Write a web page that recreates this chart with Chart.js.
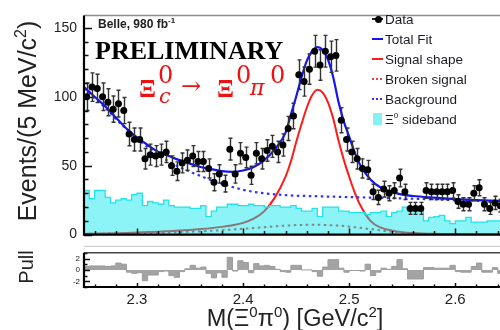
<!DOCTYPE html>
<html>
<head>
<meta charset="utf-8">
<script src="https://cdn.jsdelivr.net/npm/chart.js@4/dist/chart.umd.min.js"></script>
<style>
  body { margin: 0; width: 500px; height: 330px; overflow: hidden; position: relative; background: #fff;
         font-family: 'Liberation Sans', Arial, sans-serif; color: #222; }
  canvas { position: absolute; left: 0; }
  .t { position: absolute; white-space: nowrap; line-height: 1; }
  .serif { font-family: 'Liberation Serif', 'Times New Roman', serif; }
  .math { position: absolute; white-space: nowrap; line-height: 1; font-family: 'DejaVu Serif', serif; color: #ee1111; }
  .xi { position: absolute; white-space: nowrap; line-height: 1; font-family: 'Liberation Serif', serif; color: #ee1111; font-size: 25px; font-weight: bold; }
  .rot { position: absolute; width: 0; height: 0; }
  .rot span { position: absolute; white-space: nowrap; line-height: 1; transform: translate(-50%, -50%) rotate(-90deg); }
  .leg { position: absolute; left: 385px; font-size: 13.5px; line-height: 1; white-space: nowrap; color: #1c1c24; }
  .smp { position: absolute; left: 372px; width: 11px; }
</style>
</head>
<body>
<canvas id="main" width="510" height="250" style="top:0"></canvas>
<canvas id="pull" width="510" height="86" style="top:244px"></canvas>

<div class="t" style="left:98px; top:18px; font-size:12px; font-weight:bold;">Belle, 980 fb<span style="font-size:8px; position:relative; top:-5px;">-1</span></div>
<div class="t serif" style="left:95px; top:38px; font-size:26px; font-weight:bold; color:#000;">PRELIMINARY</div>

<div class="xi" style="left:139px; top:76px;">Ξ</div>
<div class="math" style="left:158px; top:63px; font-size:24px;">0</div>
<div class="math" style="left:159px; top:86px; font-size:21px; font-style:italic;">c</div>
<div class="math" style="left:181px; top:74px; font-size:24px;">→</div>
<div class="xi" style="left:217px; top:76px;">Ξ</div>
<div class="math" style="left:236px; top:63px; font-size:24px;">0</div>
<div class="math" style="left:250px; top:77px; font-size:22px; font-style:italic;">π</div>
<div class="math" style="left:270px; top:63px; font-size:24px;">0</div>

<div class="smp" style="top:18px; height:1.5px; background:#222;"></div>
<div class="smp" style="top:16px; left:374.5px; width:7px; height:7px; border-radius:50%; background:#000;"></div>
<div class="leg" style="top:12.5px;">Data</div>
<div class="smp" style="top:38px; height:2px; background:#1515f0;"></div>
<div class="leg" style="top:32.5px;">Total Fit</div>
<div class="smp" style="top:58px; height:2px; background:#ff1a1a;"></div>
<div class="leg" style="top:52.5px;">Signal shape</div>
<div class="smp" style="top:78px; height:2px; background:repeating-linear-gradient(90deg,#e04040 0 2px,transparent 2px 4px);"></div>
<div class="leg" style="top:72.5px;">Broken signal</div>
<div class="smp" style="top:98px; height:2px; background:repeating-linear-gradient(90deg,#3333ee 0 2px,transparent 2px 4px);"></div>
<div class="leg" style="top:92.5px;">Background</div>
<div class="smp" style="top:113px; left:373px; width:9px; height:12px; background:#86f0f4;"></div>
<div class="leg" style="top:112.5px;">Ξ<span style="font-size:8px; position:relative; top:-6px;">0</span> sideband</div>

<div class="rot" style="left:27px; top:121px;"><span style="font-size:25px;">Events/(5 MeV/c<span style="font-size:16px; position:relative; top:-10px;">2</span>)</span></div>
<div class="rot" style="left:26px; top:267px;"><span style="font-size:20px;">Pull</span></div>
<div class="t" style="left:295px; top:307px; font-size:23.5px; transform:translateX(-50%);">M(Ξ<span style="font-size:15px; position:relative; top:-9px;">0</span>π<span style="font-size:15px; position:relative; top:-9px;">0</span>) [GeV/c<span style="font-size:15px; position:relative; top:-9px;">2</span>]</div>

<script>
// binning of the M(Xi0 pi0) histogram, 5 MeV bins
const binLow = 2.25;
const binWidth = 0.005;

const massTicks = [2.3, 2.4, 2.5, 2.6];
const eventTicks = [0, 50, 100, 150];
const pullTicks = [-2, 0, 2];

// data, events per bin
const counts = [
  100, 107, 106, 100, 96, 91, 95, 90, 73, 69,
  69, 55, 58, 57, 58, 60, 50, 46, 52, 54,
  57, 53, 53, 48, 38, 44, 37, 62, 44, 59,
  56, 43, 59, 55, 61, 64, 60, 65, 77, 86,
  116, 111, 120, 133, 123, 133, 129, 130, 83, 69,
  60, 55, 48, 47, 31, 27, 33, 30, 32, 41,
  31, 19, 19, 19, 32, 31, 31, 31, 31, 32,
  24, 22, 22, 30, 34, 22, 19, 23, 21
];

// Xi0 sideband histogram
const sideband = [
  32, 26, 32, 32, 27, 23, 25, 26, 25, 29,
  30, 21, 24, 23, 22, 25, 21, 20, 20, 20,
  19, 19, 21, 13, 17, 20, 20, 22, 22, 21,
  21, 22, 21, 21, 20, 21, 21, 20, 20, 21,
  19, 17, 17, 19, 13, 20, 20, 20, 17, 17,
  16, 16, 16, 14.5, 16, 16, 17, 13, 16, 17,
  20, 20, 19, 17, 10, 12.5, 13, 14, 10, 8,
  10, 10, 12.5, 9, 9, 9, 10, 10, 10
];

// pull per bin
const pulls = [
  0.6, 0.7, 0.7, 0.7, 0.6, 0.7, 1.2, 1.0, -0.4, -0.6,
  -0.5, -1.9, -0.9, -0.9, -0.3, -0.2, -1.0, -1.3, -0.3, 0.2,
  0.8, 0.3, 0.5, -0.6, -1.4, -0.5, -1.3, 2.2, -0.2, 1.6,
  1.3, -0.5, 1.1, 0.7, 0.8, 0.6, 0.1, -0.3, -0.4, 0.8,
  0.8, 0.0, 0.0, -0.3, -1.1, 0.5, 1.8, 1.8, 0.3, -0.4,
  -0.1, -0.1, -0.2, 1.0, -1.0, -0.4, 0.3, 0.1, 0.6, 1.8,
  0.2, -1.6, -1.6, -1.6, 0.4, 0.4, 0.3, 0.3, 0.3, 0.8,
  -0.3, -0.4, -0.4, 0.6, 1.2, -0.4, -0.4, 0.4, -0.6
];

// fit curves
const fitMass = [2.25, 2.26, 2.27, 2.28, 2.29, 2.30, 2.31, 2.32, 2.33, 2.34,
  2.35, 2.36, 2.37, 2.38, 2.39, 2.40, 2.41, 2.42, 2.43, 2.44,
  2.445, 2.45, 2.455, 2.46, 2.465, 2.47, 2.475, 2.48, 2.485, 2.49,
  2.495, 2.50, 2.505, 2.51, 2.52, 2.53, 2.54, 2.55, 2.56, 2.58,
  2.60, 2.62, 2.64, 2.65];
const totalFit = [107, 100, 93, 85, 77, 70.5, 65, 60, 57, 54,
  51.5, 49, 47.5, 46, 45.5, 46.5, 49, 54, 62, 74,
  87, 100, 114, 126, 133, 136, 134, 127, 114, 96,
  82, 71, 60, 51, 40, 34, 31, 29, 28, 26.8,
  25.8, 25, 24.4, 24.2];
const background = [106, 99, 92, 84, 76.5, 69.5, 63.5, 58, 53, 49,
  45.5, 42.5, 39.5, 37, 34.5, 32.5, 31, 30, 29.2, 28.6,
  28.4, 28.2, 28.1, 28, 27.9, 27.8, 27.7, 27.6, 27.5, 27.4,
  27.3, 27.2, 27.1, 27, 26.8, 26.6, 26.4, 26.2, 26, 25.6,
  25, 24.5, 24, 23.8];
const signalShape = [0.5, 0.6, 0.8, 1.0, 1.2, 1.5, 1.8, 2.1, 2.5, 2.9,
  3.4, 4, 4.7, 5.6, 6.8, 8.5, 11.5, 17, 27, 42,
  53, 67, 80, 92, 101, 105, 103, 96, 84, 68,
  54, 42, 31, 22, 10, 5, 3, 1.8, 1.2, 0.6,
  0.4, 0.3, 0.2, 0.2];
const brokenSignal = [0.5, 0.6, 0.7, 0.8, 0.9, 1.0, 1.2, 1.4, 1.6, 1.8,
  2.1, 2.4, 2.8, 3.2, 3.7, 4.2, 4.8, 5.4, 6, 6.5,
  6.7, 6.9, 7, 7.1, 7.1, 7.1, 7, 6.9, 6.7, 6.5,
  6.2, 5.8, 5.4, 5, 4, 3, 2, 1.2, 0.7, 0.3,
  0.2, 0.1, 0.1, 0.1];

const xMin = binLow;
const xMax = binLow + counts.length * binWidth;

const binCenter = i => binLow + (i + 0.5) * binWidth;
// histogram outline: one point per left bin edge plus the last right edge
const histPoints = vals => vals.map((v, i) => ({ x: binLow + i * binWidth, y: v }))
  .concat([{ x: xMax, y: vals[vals.length - 1] }]);
const curve = vals => fitMass.map((m, i) => ({ x: m, y: vals[i] }));

function framePlugin(o) {
  return {
    id: 'frame',
    afterDatasetsDraw(chart) {
      const { ctx, chartArea: a, scales: { x, y } } = chart;
      ctx.save();
      if (o.sep) {
        ctx.strokeStyle = '#c4c4c4';
        ctx.lineWidth = 1;
        ctx.beginPath();
        ctx.moveTo(a.left, a.top - 6.5);
        ctx.lineTo(chart.width, a.top - 6.5);
        ctx.stroke();
      }
      ctx.strokeStyle = '#111';
      ctx.lineWidth = 1.5;
      ctx.beginPath();
      for (let k = Math.ceil(y.min / o.yStep - 1e-9); k * o.yStep <= y.max + 1e-9; k++) {
        const py = Math.round(y.getPixelForValue(k * o.yStep)) + 0.5;
        const len = (k % o.yEvery === 0) ? o.yLong : o.yShort;
        ctx.moveTo(a.left, py);
        ctx.lineTo(a.left + len, py);
      }
      for (let k = Math.ceil(x.min / 0.02 - 1e-9); k * 0.02 <= x.max + 1e-9; k++) {
        const px = Math.round(x.getPixelForValue(k * 0.02)) + 0.5;
        const len = (k % 5 === 0) ? o.xLong : o.xShort;
        ctx.moveTo(px, a.bottom);
        ctx.lineTo(px, a.bottom - len);
      }
      ctx.stroke();
      ctx.strokeStyle = o.topColor;
      ctx.lineWidth = 1.5;
      ctx.beginPath();
      ctx.moveTo(a.left, a.top);
      ctx.lineTo(chart.width, a.top);
      ctx.stroke();
      ctx.strokeStyle = '#000';
      ctx.lineWidth = 2.2;
      ctx.beginPath();
      ctx.moveTo(a.left, a.top);
      ctx.lineTo(a.left, a.bottom);
      ctx.lineTo(chart.width, a.bottom);
      ctx.stroke();
      ctx.restore();
    }
  };
}

const errorBars = {
  id: 'errorBars',
  beforeDatasetDraw(chart, args) {
    if (args.index !== 0) return;
    const { ctx, scales: { x, y } } = chart;
    ctx.save();
    ctx.strokeStyle = '#333';
    ctx.lineWidth = 1.4;
    ctx.beginPath();
    counts.forEach((n, i) => {
      const e = Math.sqrt(n);
      const px = Math.round(x.getPixelForValue(binCenter(i))) + 0.5;
      const top = y.getPixelForValue(n + e), bot = y.getPixelForValue(n - e);
      ctx.moveTo(px, top); ctx.lineTo(px, bot);
      ctx.moveTo(px - 2, top); ctx.lineTo(px + 2, top);
      ctx.moveTo(px - 2, bot); ctx.lineTo(px + 2, bot);
    });
    ctx.stroke();
    ctx.restore();
  }
};

Chart.defaults.font.family = "'Liberation Sans', Arial, sans-serif";
Chart.defaults.color = '#222';

const lineStyle = { pointRadius: 0, cubicInterpolationMode: 'monotone', fill: false };

new Chart(document.getElementById('main'), {
  type: 'line',
  data: {
    datasets: [
      {
        label: 'Data', type: 'scatter', order: 0,
        data: counts.map((n, i) => ({ x: binCenter(i), y: n })),
        pointRadius: 3.5, pointBackgroundColor: '#000', pointBorderWidth: 0, showLine: false
      },
      {
        label: 'Xi0 sideband', order: 1, data: histPoints(sideband),
        stepped: 'before', fill: 'origin', pointRadius: 0,
        backgroundColor: 'rgba(0,228,238,0.45)', borderColor: '#22e2ea', borderWidth: 1.3
      },
      { label: 'Total Fit', order: 2, data: curve(totalFit), borderColor: '#1515f0', borderWidth: 2.2, ...lineStyle },
      { label: 'Background', order: 3, data: curve(background), borderColor: '#3333ee', borderWidth: 2.2, borderDash: [2.5, 3.5], ...lineStyle },
      { label: 'Signal shape', order: 4, data: curve(signalShape), borderColor: '#ff1a1a', borderWidth: 2, ...lineStyle },
      { label: 'Broken signal', order: 5, data: curve(brokenSignal), borderColor: '#e04040', borderWidth: 2, borderDash: [2.5, 3.5], ...lineStyle }
    ]
  },
  options: {
    responsive: false,
    animation: false,
    devicePixelRatio: 1,
    layout: { padding: { top: 10, right: 7, bottom: 10, left: 0 } },
    plugins: { legend: { display: false }, tooltip: { enabled: false } },
    scales: {
      x: { type: 'linear', min: xMin, max: xMax, display: false },
      y: {
        min: 0, max: 159,
        afterFit: s => { s.width = 84; },
        afterBuildTicks: s => { s.ticks = eventTicks.map(v => ({ value: v })); },
        grid: { display: false, drawTicks: false },
        border: { display: false },
        ticks: { padding: 7, font: { size: 14 }, color: '#222' }
      }
    }
  },
  plugins: [errorBars, framePlugin({ yStep: 10, yEvery: 5, yLong: 8, yShort: 4.5, xLong: 6, xShort: 3.5, topColor: '#8c8c8c' })]
});

new Chart(document.getElementById('pull'), {
  type: 'line',
  data: {
    datasets: [{
      label: 'Pull', data: histPoints(pulls), stepped: 'before', fill: 'origin', pointRadius: 0,
      backgroundColor: '#a3a3a3', borderColor: '#9c9c9c', borderWidth: 1
    }]
  },
  options: {
    responsive: false,
    animation: false,
    devicePixelRatio: 1,
    layout: { padding: { top: 8, right: 7, bottom: 0, left: 0 } },
    plugins: { legend: { display: false }, tooltip: { enabled: false } },
    scales: {
      x: {
        type: 'linear', min: xMin, max: xMax,
        afterFit: s => { s.height = 43; },
        afterBuildTicks: s => { s.ticks = massTicks.map(v => ({ value: v })); },
        grid: { display: false, drawTicks: false },
        border: { display: false },
        ticks: { padding: 4, maxRotation: 0, autoSkip: false, font: { size: 15 }, color: '#222', callback: v => v.toFixed(1) }
      },
      y: {
        min: -3, max: 3,
        afterFit: s => { s.width = 84; },
        afterBuildTicks: s => { s.ticks = pullTicks.map(v => ({ value: v })); },
        grid: { display: false, drawTicks: false },
        border: { display: false },
        ticks: { padding: 4, font: { size: 8 }, color: '#222' }
      }
    }
  },
  plugins: [framePlugin({ sep: true, yStep: 1, yEvery: 2, yLong: 6, yShort: 3.5, xLong: 4, xShort: 2.5, topColor: '#444' })]
});
</script>
</body>
</html>
